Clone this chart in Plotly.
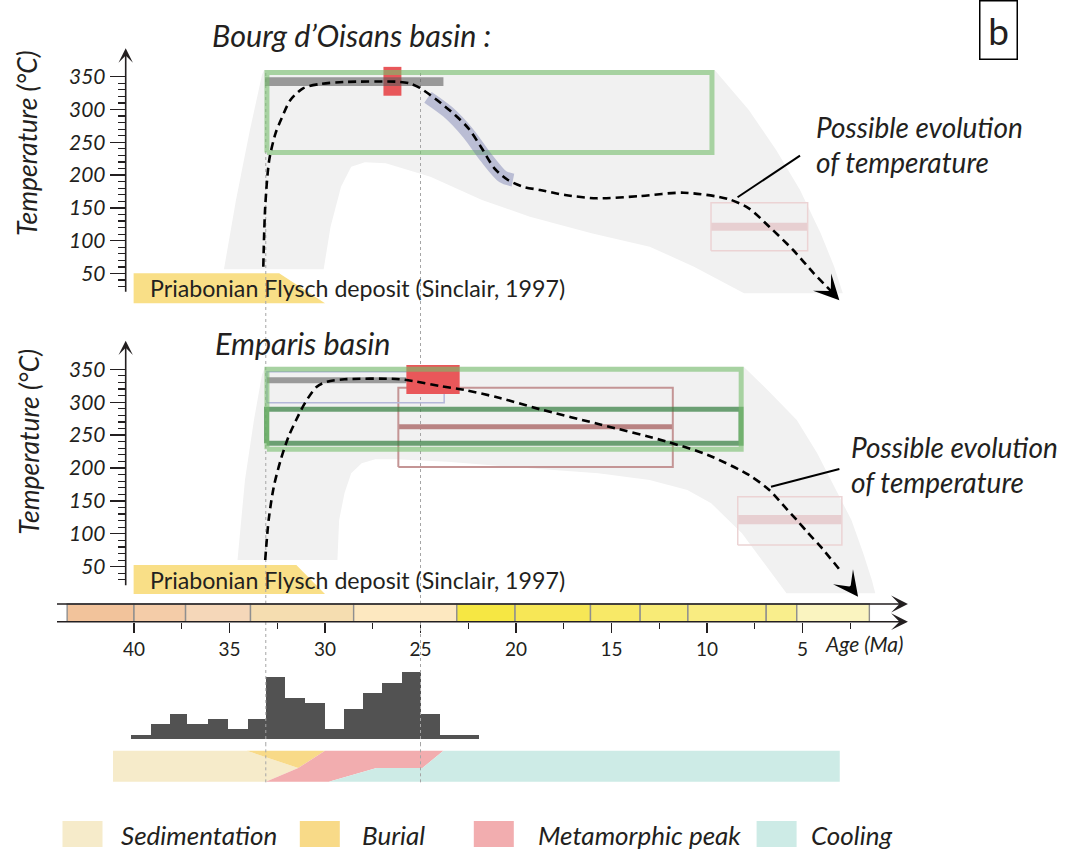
import plotly.graph_objects as go

# ------------------------------------------------------------------ data
AGE_TICKS = [40, 35, 30, 25, 20, 15, 10, 5]
AGE_MINOR_TICKS = [37.5, 32.5, 27.5, 22.5, 17.5, 12.5, 7.5, 2.5]
TEMP_TICKS = [50, 100, 150, 200, 250, 300, 350]
TEMP_MINOR_TICKS = [30, 40, 60, 70, 80, 90, 110, 120, 130, 140, 160, 170, 180, 190,
                    210, 220, 230, 240, 260, 270, 280, 290, 310, 320, 330, 340]

# geological time scale (stage boundaries, Ma) and colours
STAGE_BOUNDS = [43.5, 40.0, 37.3, 33.9, 28.5, 23.1, 20.05, 16.1, 13.5, 11.0, 6.9, 5.3, 1.5]
STAGE_COLORS = ['#f2c39b', '#f4cca8', '#f5d7b9', '#f5ddb0', '#fde8c0', '#f6e743',
                '#f7e756', '#f8e967', '#f8eb76', '#f9ec81', '#f9ee8c', '#faf4c0']
KEY_AGES = [33.1, 25.0]

# age histogram
HIST_EDGES = [40.15, 39.1, 38.1, 37.2, 36.15, 35.1, 34.05, 33.1, 32.1, 31.05, 30.0,
              29.0, 28.0, 27.0, 25.95, 24.95, 24.0, 21.95]
HIST_COUNTS = [0, 2, 4, 2, 3, 1, 3, 11, 7, 6, 1, 5, 8, 10, 12, 4, 0]
HIST_BASE = 0.83

# phases band (age, relative height)
PHASE_NAMES = ['Sedimentation', 'Burial', 'Metamorphic peak', 'Cooling']
PHASE_COLORS = ['#f6ebca', '#f8da88', '#f2adaf', '#cdebe6']
SED_AGE = [41.1, 34.1, 31.4, 33.1, 41.1]
SED_H = [1, 1, 0.44, 0, 0]
BUR_AGE = [34.1, 30.0, 31.4]
BUR_H = [1, 1, 0.44]
MET_AGE = [30.0, 23.8, 24.9, 27.3, 29.8, 33.1, 31.4]
MET_H = [1, 1, 0.44, 0.44, 0, 0, 0.44]
COOL_AGE = [23.8, 3.05, 3.05, 29.8, 27.3, 24.9]
COOL_H = [1, 1, 0, 0, 0.44, 0.44]

# ---- Bourg d'Oisans panel (age Ma, temperature C)
TOP_ENV_AGE = [35.29, 34.66, 33.93, 33.30, 33.19, 9.60, 7.81, 6.38, 5.13, 4.05, 3.34, 2.89,
               8.06, 10.68, 13.0, 16.05, 19.27, 21.78, 24.48, 26.82, 27.91, 28.63, 29.16,
               29.71, 30.07]
TOP_ENV_T = [56.4, 162.0, 268.7, 352.6, 360.2, 360.2, 299.2, 238.3, 177.3, 111.3, 60.4, 19.8,
             19.8, 60.4, 90.9, 111.3, 136.6, 162.0, 197.6, 218.0, 219.5, 212.8, 182.3,
             121.3, 56.4]
TOP_PATH_AGE = [33.23, 33.13, 32.92, 32.59, 32.27, 31.81, 31.15, 30.26, 28.99, 26.28, 25.58,
                25.03, 24.14, 23.19, 22.49, 21.80, 21.13, 20.42, 19.58, 18.74, 17.43, 15.77,
                13.49, 11.21, 8.90, 7.81, 6.74, 5.49, 4.41, 3.25]
TOP_PATH_T = [60.4, 151.8, 223.0, 263.7, 286.6, 314.5, 332.3, 338.9, 341.9, 342.4, 339.9,
              332.8, 314.5, 291.6, 271.3, 241.3, 210.4, 192.5, 181.9, 177.3, 169.7, 164.6,
              168.1, 173.2, 163.6, 149.4, 121.3, 85.8, 50.3, 15.7]
TOP_TRACK_AGE = [24.61, 23.58, 22.50, 21.60, 20.69, 20.16]
TOP_TRACK_T = [318.6, 296.6, 263.7, 228.0, 197.6, 192.5]
TOP_GREEN = [33.04, 9.74, 234.5, 356.4]
TOP_GRAY = [33.14, 23.80, 335.8, 349.1]
TOP_RED = [26.94, 26.00, 321.0, 365.0]
TOP_PINK = [9.79, 4.73, 84.8, 157.9]
TOP_PINK_BAND = [115.2, 127.4]
TOP_FLYSCH_AGE = [40.02, 32.4, 30.0, 40.02]
TOP_FLYSCH_T = [50.3, 50.3, 4.6, 4.6]
TOP_LEADER_AGE = [5.13, 8.40]
TOP_LEADER_T = [229.6, 166.2]

# ---- Emparis panel
BOT_ENV_AGE = [34.58, 34.19, 33.72, 33.30, 33.14, 8.08, 6.74, 5.30, 4.23, 3.33, 2.44, 1.82,
               1.37, 1.19, 5.84, 6.74, 8.17, 9.78, 11.03, 13.0, 15.69, 19.27, 23.58, 26.28,
               27.37, 28.08, 28.63, 28.98, 29.26, 29.35]
BOT_ENV_T = [60.2, 181.8, 273.0, 341.3, 354.0, 354.0, 316.0, 273.0, 222.3, 171.6, 120.9, 70.4,
             29.8, 9.6, 9.6, 45.0, 100.8, 146.4, 166.6, 181.8, 191.9, 199.5, 209.6, 213.2,
             213.2, 207.1, 191.9, 161.6, 120.9, 60.2]
BOT_PATH_AGE = [33.13, 32.95, 32.68, 32.32, 31.91, 31.51, 31.06, 30.43, 29.89, 28.98,
                26.28, 25.38, 23.98, 22.68, 20.84, 18.74, 15.69, 12.10, 9.96, 7.81,
                6.74, 6.02, 5.30, 4.71, 4.05, 3.04]
BOT_PATH_T = [60.2, 121.0, 171.6, 212.2, 247.6, 273.0, 298.3, 323.6, 331.2, 334.8,
              335.3, 332.2, 324.6, 318.5, 306.4, 289.2, 266.9, 240.0, 219.8, 189.4,
              166.6, 143.8, 120.9, 101.2, 80.4, 45.0]
BOT_GREEN = [33.04, 8.21, 228.6, 350.2]
BOT_DKGREEN = [33.06, 8.22, 237.5, 289.2]
BOT_LAV = [33.04, 23.76, 299.2, 346.4]
BOT_GRAY = [33.04, 25.74, 328.7, 337.8]
BOT_RED = [25.74, 22.95, 312.5, 356.5]
BOT_BROWN = [26.16, 11.79, 201.5, 322.0]
BOT_BROWN_BAND = [258.8, 266.4]
BOT_PINK = [8.39, 2.94, 83.0, 156.4]
BOT_PINK_BAND = [114.4, 128.6]
BOT_FLYSCH_AGE = [40.02, 31.5, 30.0, 40.02]
BOT_FLYSCH_T = [52.6, 52.6, 8.5, 8.5]
BOT_LEADER_AGE = [3.07, 6.65]
BOT_LEADER_T = [198.5, 171.6]

PANEL_TITLES = ['Bourg d\u2019Oisans basin :', 'Emparis basin']
Y_TITLE = 'Temperature (\u00b0C)'
FLYSCH_LABEL = 'Priabonian Flysch deposit (Sinclair, 1997)'
EVOL_LABEL = ['Possible evolution', 'of temperature']

# ------------------------------------------------------------------ layout geometry
W, H = 1066, 855
FONT = 'Lato'
INK = '#231f20'
X_REF_PX, X_REF_AGE, X_PPU = 134.0, 40.0, 19.1
X_RANGE = [X_REF_AGE + X_REF_PX / X_PPU, X_REF_AGE - (W - X_REF_PX) / X_PPU]


def vaxis(top_px, bot_px, ref_px, ref_val, ppu):
    dom = [1 - bot_px / H, 1 - top_px / H]
    rng = [ref_val - (bot_px - ref_px) / ppu, ref_val + (ref_px - top_px) / ppu]
    return dom, rng


TOP_DOM, TOP_RNG = vaxis(0, 316, 76.7, 350, 0.656)
BOT_DOM, BOT_RNG = vaxis(316, 598, 369.3, 350, 0.658)
TS_DOM, TS_RNG = vaxis(598, 621.7, 621.7, 0, 17.7)
HI_DOM, HI_RNG = vaxis(621.7, 745, 734.7, 0, 5.22)
PH_DOM, PH_RNG = vaxis(745, 790, 781.7, 0, 31)
AXIS_POS = 125.7 / W
AXIS_AGE = X_RANGE[0] + AXIS_POS * (X_RANGE[1] - X_RANGE[0])

traces = []


def rect_xy(r):
    a0, a1, t0, t1 = r
    return [a0, a1, a1, a0, a0], [t0, t0, t1, t1, t0]


def fill(xs, ys, yax, color):
    traces.append(go.Scatter(x=xs, y=ys, xaxis='x', yaxis=yax, mode='lines', fill='toself',
                             fillcolor=color, line=dict(width=0, color=color),
                             hoverinfo='skip', showlegend=False))


def line(xs, ys, yax, color, width, dash=None, smooth=False):
    traces.append(go.Scatter(x=xs, y=ys, xaxis='x', yaxis=yax, mode='lines',
                             line=dict(color=color, width=width, dash=dash,
                                       shape='spline' if smooth else 'linear',
                                       smoothing=0.8),
                             hoverinfo='skip', showlegend=False))


def dotted(yax, lo, hi):
    for a in KEY_AGES:
        line([a, a], [lo, hi], yax, '#a5a5a5', 1, dash='dot')


GREEN = 'rgba(118,190,108,0.6)'
DKGREEN = 'rgba(55,128,66,0.72)'

# ---------------- top panel
fill(TOP_ENV_AGE, TOP_ENV_T, 'y', '#f1f1f1')
fill(TOP_FLYSCH_AGE, TOP_FLYSCH_T, 'y', '#f9df87')
dotted('y', TOP_RNG[0], 357)
fill(*rect_xy([TOP_PINK[0], TOP_PINK[1], TOP_PINK_BAND[0], TOP_PINK_BAND[1]]), 'y', '#e7cfd1')
line(*rect_xy(TOP_PINK), 'y', '#ecd3d4', 1.5)
fill(*rect_xy(TOP_RED), 'y', '#e8575a')
fill(*rect_xy(TOP_GRAY), 'y', 'rgba(90,90,90,0.58)')
line(*rect_xy(TOP_GREEN), 'y', GREEN, 5)
line(TOP_TRACK_AGE, TOP_TRACK_T, 'y', 'rgba(110,116,172,0.42)', 13, smooth=True)
line(TOP_PATH_AGE, TOP_PATH_T, 'y', 'black', 2.6, dash='8px,5px', smooth=True)
line(TOP_LEADER_AGE, TOP_LEADER_T, 'y', 'black', 2)

# ---------------- bottom panel
fill(BOT_ENV_AGE, BOT_ENV_T, 'y2', '#f1f1f1')
fill(BOT_FLYSCH_AGE, BOT_FLYSCH_T, 'y2', '#f9df87')
dotted('y2', BOT_RNG[0], BOT_RNG[1])
fill(*rect_xy([BOT_PINK[0], BOT_PINK[1], BOT_PINK_BAND[0], BOT_PINK_BAND[1]]), 'y2', '#e7cfd1')
line(*rect_xy(BOT_PINK), 'y2', '#ecd3d4', 1.5)
fill(*rect_xy([BOT_BROWN[0], BOT_BROWN[1], BOT_BROWN_BAND[0], BOT_BROWN_BAND[1]]), 'y2', '#b98383')
line(*rect_xy(BOT_BROWN), 'y2', '#c49595', 2)
line(*rect_xy(BOT_LAV), 'y2', '#b4b7da', 1.5)
fill(*rect_xy(BOT_GRAY), 'y2', '#9a9a9a')
fill(*rect_xy(BOT_RED), 'y2', '#e9575a')
line(*rect_xy(BOT_DKGREEN), 'y2', DKGREEN, 5)
line(*rect_xy(BOT_GREEN), 'y2', GREEN, 5)
line(BOT_PATH_AGE, BOT_PATH_T, 'y2', 'black', 2.6, dash='8px,5px', smooth=True)
line(BOT_LEADER_AGE, BOT_LEADER_T, 'y2', 'black', 2)

# ---------------- time scale
dotted('y3', TS_RNG[0], TS_RNG[1])
for i, c in enumerate(STAGE_COLORS):
    xs, ys = rect_xy([STAGE_BOUNDS[i], STAGE_BOUNDS[i + 1], 0, 1])
    traces.append(go.Scatter(x=xs, y=ys, xaxis='x', yaxis='y3', mode='lines', fill='toself',
                             fillcolor=c, line=dict(color='#8f8f8f', width=1.4),
                             hoverinfo='skip', showlegend=False))

# ---------------- histogram
dotted('y4', HI_RNG[0], HI_RNG[1])
centers = [(a + b) / 2 for a, b in zip(HIST_EDGES[:-1], HIST_EDGES[1:])]
widths = [a - b for a, b in zip(HIST_EDGES[:-1], HIST_EDGES[1:])]
traces.append(go.Bar(x=centers, y=[c + HIST_BASE for c in HIST_COUNTS], base=-HIST_BASE,
                     width=widths, xaxis='x', yaxis='y4', marker=dict(color='#525252', line=dict(width=0)),
                     hoverinfo='skip', showlegend=False))

# ---------------- phases band
for xs, ys, c in [(SED_AGE, SED_H, PHASE_COLORS[0]), (BUR_AGE, BUR_H, PHASE_COLORS[1]),
                  (MET_AGE, MET_H, PHASE_COLORS[2]), (COOL_AGE, COOL_H, PHASE_COLORS[3])]:
    fill(xs + [xs[0]], ys + [ys[0]], 'y5', c)
dotted('y5', -0.02, PH_RNG[1])

fig = go.Figure(traces)

ann = []


def text(x, y, s, size, xref='x', yref='y', italic=True, xanchor='left', angle=0, color=INK):
    ann.append(dict(x=x, y=y, xref=xref, yref=yref, text=s, showarrow=False, xanchor=xanchor,
                    yanchor='middle', textangle=angle,
                    font=dict(family=FONT, size=size, color=color,
                              style='italic' if italic else 'normal')))


def arrow(x, y, ax, ay, yref, width, size, color=INK):
    ann.append(dict(x=x, y=y, ax=ax, ay=ay, xref='x', yref=yref, axref='x', ayref=yref,
                    showarrow=True, arrowhead=3, arrowsize=size, arrowwidth=width,
                    arrowcolor=color, text='', standoff=0, startstandoff=0))


# titles and labels
text(36.02, 413.6, PANEL_TITLES[0], 30.5, yref='y')
text(35.84, 389.5, PANEL_TITLES[1], 30.5, yref='y2')
text(45.6, 248.9, Y_TITLE, 26.5, yref='y', xanchor='center', angle=-90)
text(45.5, 240.0, Y_TITLE, 26.5, yref='y2', xanchor='center', angle=-90)
text(39.29, 27.4, FLYSCH_LABEL, 23.2, yref='y', italic=False)
text(39.29, 29.8, FLYSCH_LABEL, 23.2, yref='y2', italic=False)
text(4.38, 273.8, EVOL_LABEL[0], 28, yref='y')
text(4.38, 220.4, EVOL_LABEL[1], 28, yref='y')
text(2.55, 232.4, EVOL_LABEL[0], 28, yref='y2')
text(2.55, 179.2, EVOL_LABEL[1], 28, yref='y2')
text(3.95, 1 - 643 / H, 'Age (Ma)', 21, yref='paper')

# axis arrows
arrow(AXIS_AGE, 393.3, AXIS_AGE, 19.8, 'y', 1.6, 1.5)
arrow(AXIS_AGE, 393.5, AXIS_AGE, 19.6, 'y2', 1.6, 1.5)
arrow(-0.52, 1, 44.11, 1, 'y3', 1.4, 2.0)
arrow(-0.52, 0, 44.11, 0, 'y3', 1.4, 2.0)
# temperature path arrow heads
arrow(3.07, 9.4, 3.58, 25.0, 'y', 2.6, 1.6, 'black')
arrow(2.09, 4.4, 2.53, 21.3, 'y2', 2.6, 1.6, 'black')

# panel letter
ann.append(dict(x=998.5 / W, y=1 - 30 / H, xref='paper', yref='paper', text='b', showarrow=False,
                width=36, height=57, borderpad=0, bordercolor='black', borderwidth=1.5,
                font=dict(family=FONT, size=37, color=INK), xanchor='center', yanchor='middle'))

# legend (custom)
LEG_BOX_X = [62.5, 299.8, 473.8, 756.6]
LEG_TEXT_X = [119, 360, 535.7, 809]
shapes = []
for name, c, bx, tx in zip(PHASE_NAMES, PHASE_COLORS, LEG_BOX_X, LEG_TEXT_X):
    shapes.append(dict(type='rect', xref='paper', yref='paper', x0=bx / W, x1=(bx + 40) / W,
                       y0=1 - 847 / H, y1=1 - 821 / H, fillcolor=c, line=dict(width=0)))
    text(tx / W, 1 - 835 / H, name, 26, xref='paper', yref='paper')

tfont = dict(family=FONT, size=21, color=INK, style='italic')
yax_common = dict(anchor='free', position=AXIS_POS, side='left', showgrid=False, zeroline=False,
                  showline=False, ticks='outside', tickmode='array', tickvals=TEMP_TICKS,
                  ticklen=16, tickwidth=1.3, tickcolor=INK, tickfont=tfont,
                  minor=dict(tickmode='array', tickvals=TEMP_MINOR_TICKS, ticks='outside',
                             ticklen=8, tickwidth=1.2, tickcolor=INK, showgrid=False),
                  fixedrange=True)
hidden = dict(visible=False, showgrid=False, zeroline=False, fixedrange=True)

fig.update_layout(
    width=W, height=H, autosize=False,
    margin=dict(l=0, r=0, t=0, b=0, pad=0),
    paper_bgcolor='white', plot_bgcolor='rgba(0,0,0,0)',
    font=dict(family=FONT, color=INK),
    showlegend=False,
    xaxis=dict(range=X_RANGE, domain=[0, 1], anchor='y3', showgrid=False, zeroline=False,
               showline=False, ticks='outside', tickmode='array', tickvals=AGE_TICKS,
               ticklen=10, tickwidth=1.3, tickcolor=INK,
               tickfont=dict(family=FONT, size=19, color=INK),
               minor=dict(tickmode='array', tickvals=AGE_MINOR_TICKS, ticks='outside',
                          ticklen=6, tickwidth=1.3, tickcolor=INK, showgrid=False),
               fixedrange=True),
    yaxis=dict(domain=TOP_DOM, range=TOP_RNG, **yax_common),
    yaxis2=dict(domain=BOT_DOM, range=BOT_RNG, **yax_common),
    yaxis3=dict(domain=TS_DOM, range=TS_RNG, anchor='x', **hidden),
    yaxis4=dict(domain=HI_DOM, range=HI_RNG, anchor='x', **hidden),
    yaxis5=dict(domain=PH_DOM, range=PH_RNG, anchor='x', **hidden),
    annotations=ann,
    shapes=shapes,
    bargap=0,
)

fig.write_html("out.html", config={'displayModeBar': False, 'staticPlot': True},
               post_script="document.body.style.margin='0';document.body.style.overflow='hidden';")
